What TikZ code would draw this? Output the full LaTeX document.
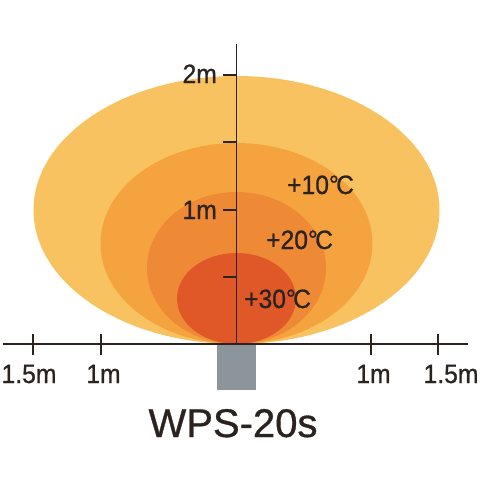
\documentclass[tikz,border=0pt]{standalone}
\usepackage{fontspec}
\setmainfont{Liberation Sans}
\newfontfamily\lblfont[FakeStretch=0.93, FakeBold=0.8]{Liberation Sans}
\newfontfamily\titlefont[FakeBold=0.8]{Liberation Sans}
\definecolor{axiscol}{HTML}{2A2320}
\definecolor{zoneA}{HTML}{F9C260}
\definecolor{zoneB}{HTML}{F5A33F}
\definecolor{zoneC}{HTML}{EE8935}
\definecolor{zoneD}{HTML}{E05828}
\definecolor{boxgray}{HTML}{8C949C}
\newcommand{\degC}{{°}\kern-0.1em C}
\tikzset{
  axisline/.style={draw=axiscol, line width=1.6pt},
  lbl/.style={inner sep=0pt, text=axiscol, font=\lblfont\fontsize{26.5}{30}\selectfont},
  title/.style={inner sep=0pt, text=axiscol, font=\titlefont\fontsize{40}{44}\selectfont},
}
\begin{document}
\begin{tikzpicture}[x=1pt, y=-1pt]
\useasboundingbox (0,0) rectangle (480,480);
% heat zones (ellipses tangent to the axis at the origin)
\fill[zoneA] (236.5,210) ellipse [x radius=203, y radius=134];
\fill[zoneB] (236.5,243.5) ellipse [x radius=136, y radius=100.5];
\fill[zoneC] (236.5,268) ellipse [x radius=89.5, y radius=76];
\fill[zoneD] (236.5,298.5) ellipse [x radius=59.5, y radius=45.5];
% device
\node[fill=boxgray, minimum width=39pt, minimum height=46pt, inner sep=0pt, anchor=north] (dev) at (236.5,344) {};
% axes
\coordinate (o) at (236.5,344);
\coordinate (xl) at (3,344);
\coordinate (xr) at (468,344);
\coordinate (yt) at (236.5,44);
\draw[axisline] (xl) -- (xr);
\draw[axisline] (o) -- (yt);
% vertical ticks
\foreach \yy in {75,142,210,277} \draw[axisline] (223,\yy) -- (236.5,\yy);
% horizontal ticks
\foreach \xx in {33,101,371,438} \draw[axisline] (\xx,334) -- (\xx,355);
% labels
\node[lbl, anchor=base east] (l2m) at (217,83) {2m};
\node[lbl, anchor=base east] (l1m) at (217,219) {1m};
\node[lbl, anchor=base west] (t10) at (287,194) {+10\degC};
\node[lbl, anchor=base west] (t20) at (266,249) {+20\degC};
\node[lbl, anchor=base west] (t30) at (244,308) {+30\degC};
\node[lbl, anchor=base] (xa) at (29,383) {1.5m};
\node[lbl, anchor=base] (xb) at (103.5,383) {1m};
\node[lbl, anchor=base] (xc) at (373.5,383) {1m};
\node[lbl, anchor=base] (xd) at (451,383) {1.5m};
\node[title, anchor=base] (name) at (233,437) {WPS-20s};
\end{tikzpicture}
\end{document}
